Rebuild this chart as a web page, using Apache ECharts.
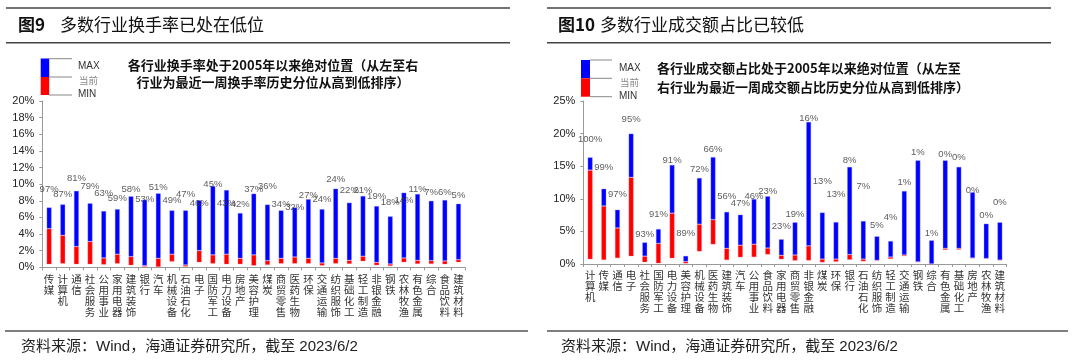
<!DOCTYPE html>
<html><head><meta charset="utf-8">
<script src="https://cdn.jsdelivr.net/npm/echarts@6/dist/echarts.min.js"></script>
<style>html,body{margin:0;padding:0;background:#fff}#c{width:1080px;height:363px}</style>
</head><body><div id="c"></div>
<script>
// ---- Left chart: turnover rate (%) ----
const catsL = ['传媒','计算机','通信','社会服务','公用事业','家用电器','建筑装饰','银行','汽车','机械设备','石油石化','电子','国防军工','电力设备','房地产','美容护理','煤炭','商贸零售','医药生物','环保','交通运输','纺织服饰','基础化工','轻工制造','非银金融','钢铁','农林牧渔','有色金属','综合','食品饮料','建筑材料'];
const maxL = [7.2,7.57,9.2,7.7,6.77,7.0,8.54,8.14,8.9,6.85,6.85,8.06,9.78,9.3,6.53,8.86,7.55,6.85,7.2,8.2,7.0,9.46,7.78,8.58,7.37,6.13,8.98,8.82,8.0,8.1,7.65];
const curL = [4.65,3.85,2.5,3.1,1.12,1.57,1.28,0.2,1.08,1.57,0.28,2.0,1.49,1.57,1.08,1.49,0.8,1.08,1.24,1.08,0.52,1.08,0.84,1.33,0.6,0.4,1.12,0.84,0.8,0.76,0.92];
const minL = [0.36,0.44,0.36,0.36,0.32,0.44,0.24,0.08,0.04,0.68,0.08,0.6,0.44,0.36,0.36,0.2,0.28,0.44,0.44,0.44,0.2,0.44,0.4,0.72,0.24,0.16,0.6,0.4,0.4,0.36,0.6];
const pctL = ['97%','87%','81%','79%','63%','59%','58%','53%','51%','49%','47%','46%','45%','43%','42%','37%','36%','34%','32%','27%','24%','24%','22%','21%','19%','18%','14%','11%','7%','6%','5%'];
const labelAtL = [9.42,8.82,10.7,9.7,8.9,8.3,9.42,8.2,9.58,8.1,8.82,7.7,10.0,7.7,7.6,9.42,9.7,7.6,7.2,8.6,8.2,10.6,9.3,9.3,8.5,7.8,8.1,9.4,9.0,9.0,8.6];
const ticksL = {min:0, max:20, interval:2};

// ---- Right chart: turnover share (%) ----
const catsR = ['计算机','传媒','通信','电子','社会服务','国防军工','电力设备','美容护理','机械设备','医药生物','建筑装饰','汽车','公用事业','食品饮料','家用电器','商贸零售','非银金融','煤炭','环保','银行','石油石化','纺织服饰','轻工制造','交通运输','钢铁','综合','有色金属','基础化工','房地产','农林牧渔','建筑材料'];
const maxR = [16.36,11.55,8.33,20.0,3.32,5.37,15.2,1.25,13.2,16.4,8.0,7.57,9.97,10.4,3.8,6.4,21.8,7.9,6.44,14.9,6.6,4.25,3.53,11.2,15.9,3.63,15.9,14.9,11.0,6.19,6.4];
const curR = [14.4,8.9,5.52,13.3,1.2,3.15,7.8,0.38,6.1,6.8,2.4,2.88,3.03,2.45,1.33,1.38,2.78,0.75,0.75,1.45,0.75,0.56,1.07,1.38,0.33,0.02,2.4,2.4,0.92,0.85,0.6];
const minR = [0.72,0.61,0.9,1.18,0.26,0.1,0.87,0.08,1.92,3.0,0.6,1.02,1.05,1.45,0.72,0.51,0.53,0.25,0.33,0.64,0.4,0.46,0.77,1.2,0.33,0.02,2.15,2.2,0.92,0.85,0.6];
const pctR = ['100%','99%','97%','95%','93%','91%','91%','89%','72%','66%','56%','47%','46%','23%','23%','19%','16%','13%','13%','8%','7%','5%','4%','1%','1%','1%','0%','0%','0%','0%','0%'];
const labelAtR = [19.1,14.8,10.7,22.2,4.6,7.6,15.85,4.7,14.5,17.6,10.4,9.3,10.4,11.1,5.7,7.6,22.3,12.7,10.7,15.95,11.9,5.9,7.1,12.5,17.1,4.7,16.8,16.3,11.35,7.5,9.5];
const ticksR = {min:0, max:25, interval:5};

const FONT = 'Liberation Sans, Arial, "Noto Sans CJK SC", sans-serif';
const CJK = '"Noto Sans CJK SC", sans-serif';

function xAxisFor(cats, gi){
  return {type:'category', gridIndex:gi, data:cats,
    axisLine:{lineStyle:{color:'#999', width:1}},
    axisTick:{show:true, length:3, lineStyle:{color:'#999'}},
    axisLabel:{interval:0, fontSize:10.5, lineHeight:11, color:'#333', fontFamily:CJK, margin:6,
      formatter:v=>v.split('').join('\n')}};
}
function yAxisFor(t, gi){
  return {type:'value', gridIndex:gi, min:t.min, max:t.max, interval:t.interval,
    axisLine:{show:true, lineStyle:{color:'#999'}},
    axisTick:{show:true, length:3, lineStyle:{color:'#999'}},
    splitLine:{show:false},
    axisLabel:{formatter:'{value}%', fontSize:11, color:'#222', fontFamily:FONT, margin:8}};
}
function seriesFor(mins, curs, maxs, pcts, labAt, idx){
  const st = 's'+idx;
  return [
    {type:'bar', stack:st, xAxisIndex:idx, yAxisIndex:idx, barWidth:5, silent:true,
      itemStyle:{color:'transparent'}, data:mins},
    {type:'bar', stack:st, xAxisIndex:idx, yAxisIndex:idx, barWidth:5,
      itemStyle:{color:'#ff0000', borderColor:'rgba(255,120,140,0.55)', borderWidth:0.6},
      data:curs.map((c,i)=>+(c-mins[i]).toFixed(3))},
    {type:'bar', stack:st, xAxisIndex:idx, yAxisIndex:idx, barWidth:5,
      itemStyle:{color:'#0000ff', borderColor:'rgba(150,150,255,0.6)', borderWidth:0.6},
      data:maxs.map((m,i)=>+(m-curs[i]).toFixed(3))},
    {type:'scatter', xAxisIndex:idx, yAxisIndex:idx, symbolSize:0, silent:true, z:5,
      data:labAt.map((y,i)=>[i,y]),
      label:{show:true, position:'inside', fontSize:9.5, color:'#333', fontFamily:FONT,
        formatter:p=>pcts[p.dataIndex]}}
  ];
}

const chart = echarts.init(document.getElementById('c'), null, {renderer:'canvas'});
const G = [];
function line(x1,y1,x2,y2,c,w){G.push({type:'line', shape:{x1,y1,x2,y2}, style:{stroke:c, lineWidth:w}, silent:true});}
function txt(x,y,s,o){G.push({type:'text', x, y, style:Object.assign({text:s, fill:'#111', verticalAlign:'middle', font:'13px '+CJK}, o||{}), silent:true});}
function rect(x,y,w,h,c){G.push({type:'rect', shape:{x,y,width:w,height:h}, style:{fill:c}, silent:true});}

// Left panel decorations
line(6,8,510,8,'#444',1.5);
line(6,42.7,510,42.7,'#444',1.5);
txt(18,25,'图9',{font:'bold 17px '+CJK});
txt(60,25,'多数行业换手率已处在低位',{font:'17px '+CJK});
rect(40.7,58.5,8.5,18.5,'#0000ff');
rect(40.7,77,8.5,18,'#ff0000');
line(49,58.7,72,58.7,'#888',1); line(49,77,72,77,'#888',1); line(49,95,72,95,'#888',1);
txt(78,66.5,'MAX',{font:'10px '+FONT, fill:'#333'});
txt(79,80.7,'当前',{font:'9.5px '+CJK, fill:'#888'});
txt(78,94.5,'MIN',{font:'10px '+FONT, fill:'#333'});
txt(273,65,'各行业换手率处于2005年以来绝对位置（从左至右',{font:'bold 13px '+CJK, align:'center'});
txt(273,82,'行业为最近一周换手率历史分位从高到低排序）',{font:'bold 13px '+CJK, align:'center'});
line(5,331,528,331,'#555',1.5);
txt(21,347,'资料来源：Wind，海通证券研究所，截至 2023/6/2',{font:'15px '+FONT, fill:'#222'});

// Right panel decorations
line(547,8,1051,8,'#444',1.5);
line(547,42.7,1051,42.7,'#444',1.5);
txt(558,25,'图10',{font:'bold 17px '+CJK});
txt(600,25,'多数行业成交额占比已较低',{font:'17px '+CJK});
rect(581,60,9,18.3,'#0000ff');
rect(581,78.3,9,18.4,'#ff0000');
line(590,60,612,60,'#888',1); line(590,78.3,612,78.3,'#888',1); line(590,96.7,612,96.7,'#888',1);
txt(619,68,'MAX',{font:'10px '+FONT, fill:'#333'});
txt(620,82,'当前',{font:'9.5px '+CJK, fill:'#888'});
txt(619,96.5,'MIN',{font:'10px '+FONT, fill:'#333'});
txt(657,68,'各行业成交额占比处于2005年以来绝对位置（从左至',{font:'bold 13px '+CJK});
txt(657,87,'右行业为最近一周成交额占比历史分位从高到低排序）',{font:'bold 13px '+CJK});
line(547,331,1068,331,'#555',1.5);
txt(561,347,'资料来源：Wind，海通证券研究所，截至 2023/6/2',{font:'15px '+FONT, fill:'#222'});

chart.setOption({
  animation:false,
  backgroundColor:'#fff',
  grid:[
    {left:42.3, top:101, width:423, height:166.3, containLabel:false},
    {left:583.3, top:101, width:423.4, height:163, containLabel:false}
  ],
  xAxis:[xAxisFor(catsL,0), xAxisFor(catsR,1)],
  yAxis:[yAxisFor(ticksL,0), yAxisFor(ticksR,1)],
  series:[].concat(seriesFor(minL,curL,maxL,pctL,labelAtL,0), seriesFor(minR,curR,maxR,pctR,labelAtR,1)),
  graphic:G
});
</script></body></html>
